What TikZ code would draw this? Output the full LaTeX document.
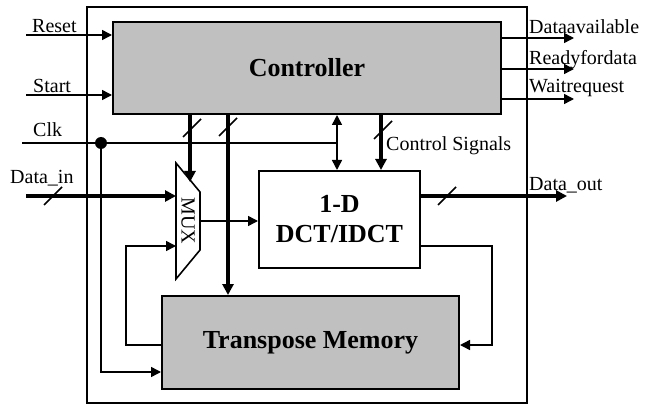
\documentclass[tikz,border=0pt]{standalone}
\usepackage{fontspec}
\setmainfont{Liberation Serif}
\usetikzlibrary{arrows.meta,calc}
\definecolor{boxgray}{HTML}{C0C0C0}
\begin{document}
\begin{tikzpicture}[x=1pt,y=-1pt,
  thinln/.style={line width=1.5pt},
  thickln/.style={line width=4pt},
  arr/.style={thinln,-{Triangle[length=10pt,width=10pt]}},
  thickarr/.style={thickln,-{Triangle[length=11pt,width=11pt]}},
  biarr/.style={thinln,{Triangle[length=10pt,width=10pt]}-{Triangle[length=10pt,width=10pt]}},
  graybox/.style={draw,line width=2pt,fill=boxgray,inner sep=0pt,font=\fontsize{26}{30}\selectfont\bfseries},
  whitebox/.style={draw,line width=2pt,fill=white,inner sep=0pt,align=center,font=\fontsize{26}{30}\selectfont\bfseries},
  lbl/.style={inner sep=0pt,anchor=base west,font=\fontsize{20}{24}\selectfont},
  busmark/.pic={\draw[line width=1.5pt] (-9,9) -- (9,-9);}
]
\useasboundingbox (0,0) rectangle (647,406);
% outer box
\node[draw,line width=1.6pt,minimum width=440pt,minimum height=396pt,inner sep=0pt] (outer) at (307,205) {};
% blocks
\node[graybox,minimum width=388pt,minimum height=92pt] (ctrl) at (307,68) {Controller};
\node[whitebox,minimum width=161pt,minimum height=97pt] (dct) at (339.5,219.5) {1-D\\DCT/IDCT};
\node[graybox,minimum width=297pt,minimum height=93pt] (tm) at (310.5,342.5) {Transpose Memory};
% MUX
\coordinate (m1) at (176,163);
\coordinate (m2) at (200,192);
\coordinate (m3) at (200,250);
\coordinate (m4) at (176,279);
\draw[line width=1.6pt,fill=white,line join=miter] (m1) -- (m2) -- (m3) -- (m4) -- cycle;
\node[rotate=-90,inner sep=0pt,font=\fontsize{20}{24}\selectfont] (mux) at (188,221) {MUX};
% inputs
\coordinate (rin) at (26,35);
\coordinate (sin) at (26,95);
\coordinate (cin) at (22,143);
\coordinate (din) at (26,196);
\draw[arr] (rin) -- (rin -| ctrl.west);
\draw[arr] (sin) -- (sin -| ctrl.west);
\node[lbl] (lreset) at (32,33) {Reset};
\node[lbl] (lstart) at (33,93) {Start};
\node[lbl] (lclk) at (33,137) {Clk};
\node[lbl] (ldin) at (10,183) {Data\_in};
% verticals from controller
\path (ctrl.south west) ++(78,0) coordinate (v1);
\path (ctrl.south west) ++(116,0) coordinate (v2);
\path (ctrl.south west) ++(225,0) coordinate (v3);
\path (ctrl.south west) ++(269,0) coordinate (v4);
\coordinate (muxsel) at (191,182);
% clock
\coordinate (cdot) at (101,143);
\draw[thinln] (cin) -- (cin -| v3);
\fill (cdot) circle (6pt);
\draw[arr] (cdot) |- ($(tm.west)+(0,29.5)$);
\draw[biarr] (v3) -- (v3 |- dct.north);
% data in
\draw[thickarr] (din) -- (din -| m1);
\pic at (53,196) {busmark};
% controller to mux / tm / dct
\draw[thickarr] (v1) -- (v1 |- muxsel);
\pic at (192,128) {busmark};
\draw[thickarr] (v2) -- (v2 |- tm.north);
\pic at (228,127) {busmark};
\draw[thickarr] (v4) -- (v4 |- dct.north);
\pic at (383,130) {busmark};
\node[lbl] (lctl) at (386,150) {Control Signals};
% mux output
\coordinate (mout) at (200,221);
\draw[arr] (mout) -- (mout -| dct.west);
% data out
\coordinate (dout) at (567,196);
\draw[thickarr] (dout -| dct.east) -- (dout);
\pic at (447,196) {busmark};
\node[lbl] (ldout) at (529,190) {Data\_out};
% controller outputs
\coordinate (o1) at (574,38);
\coordinate (o2) at (574,69);
\coordinate (o3) at (574,99);
\draw[arr] (o1 -| ctrl.east) -- (o1);
\draw[arr] (o2 -| ctrl.east) -- (o2);
\draw[arr] (o3 -| ctrl.east) -- (o3);
\node[lbl] (lo1) at (529,34) {Dataavailable};
\node[lbl] (lo2) at (529,65) {Readyfordata};
\node[lbl] (lo3) at (529,93) {Waitrequest};
% feedback loops
\coordinate (fb1) at (492,246);
\draw[arr] (fb1 -| dct.east) -- (fb1) |- ($(tm.east)+(0,2.5)$);
\coordinate (fb2) at (126,246);
\draw[arr] ($(tm.west)+(0,2.5)$) -| (fb2) -- (fb2 -| m1);
\end{tikzpicture}
\end{document}
